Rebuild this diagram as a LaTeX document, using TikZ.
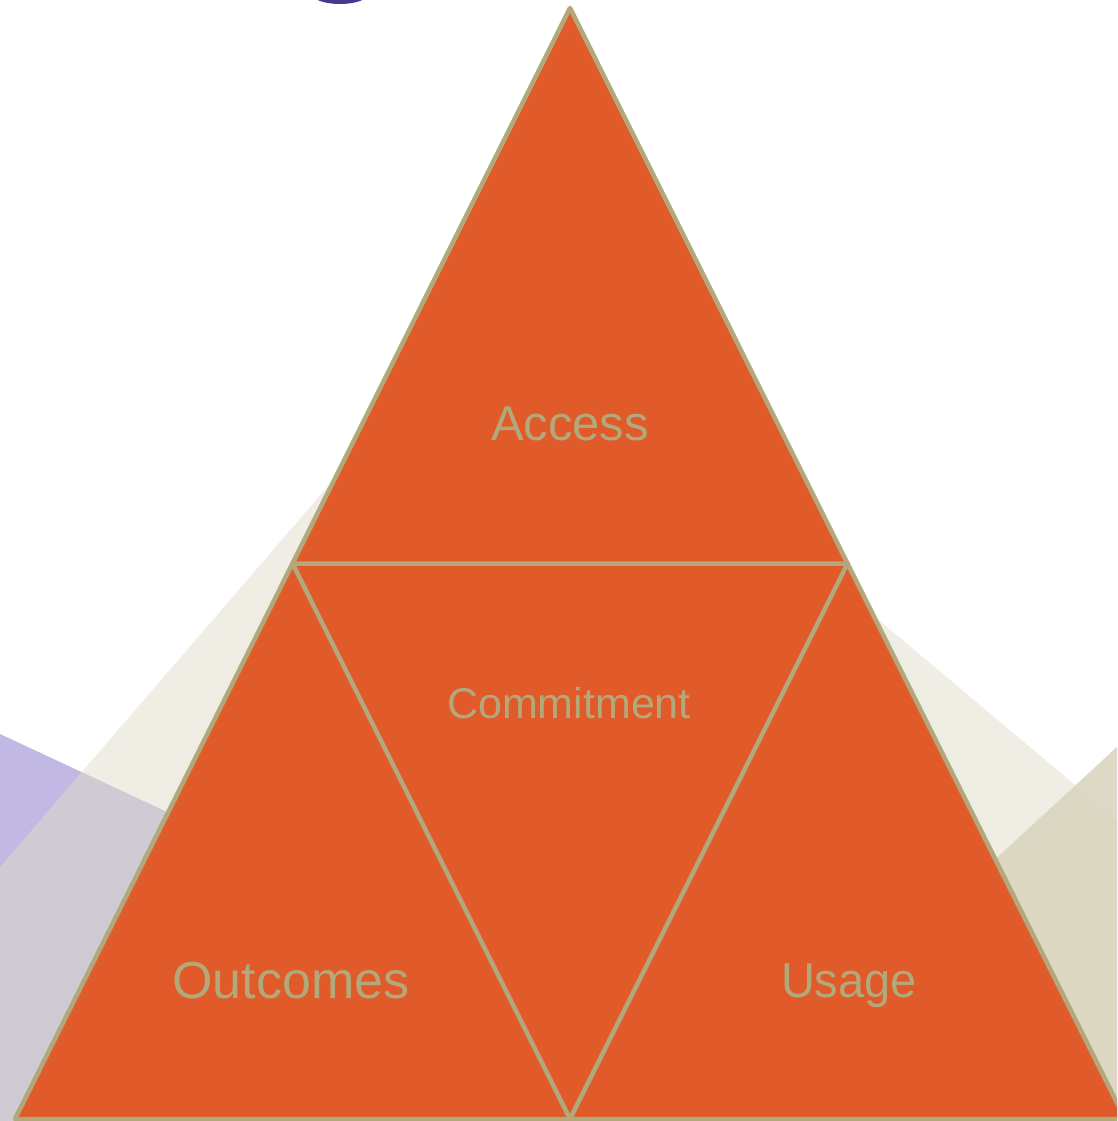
\documentclass[tikz,border=0pt]{standalone}
\usepackage{fontspec}
\setmainfont{Liberation Sans}
\usetikzlibrary{calc}
\definecolor{orangeF}{HTML}{E05A2A}
\definecolor{khaki}{HTML}{B3A87C}
\definecolor{textK}{HTML}{B2A87A}
\definecolor{purpleL}{HTML}{C1B9E3}
\definecolor{beigeL}{HTML}{DFDBC9}
\definecolor{beigeD}{HTML}{DAD5C0}
\definecolor{blobC}{HTML}{4A3890}
\tikzset{
  edgeline/.style={draw=khaki, line width=4.5pt, line join=round},
  lbl/.style={text=textK, anchor=base, inner sep=0pt},
}
\begin{document}
\begin{tikzpicture}[x=1pt,y=-1pt]
\useasboundingbox (0,0) rectangle (1117,1121);
\clip (0,0) rectangle (1117,1121);
% background shapes
\fill[purpleL] (0,734) -- (400,920.7) -- (400,1121) -- (0,1121) -- cycle;
\fill[beigeL, opacity=0.5] (345.5,466) -- (0,867) -- (0,1121) -- (500,1121) -- cycle;
\fill[beigeL, opacity=0.5] (843,590) -- (1300,974) -- (1300,1121) -- (1000,1121) -- cycle;
\fill[beigeD, opacity=0.9] (950,901) -- (1200,670.4) -- (1200,1121) -- (1000,1121) -- cycle;
% purple blob at top
\fill[blobC] (340,-6) ellipse [x radius=28, y radius=10];
% main triangle
\coordinate (apex) at (570,8);
\coordinate (bl) at (15,1119);
\coordinate (br) at (1125,1119);
\coordinate (ml) at ($(apex)!0.5!(bl)$);
\coordinate (mr) at ($(apex)!0.5!(br)$);
\coordinate (mb) at ($(bl)!0.5!(br)$);
\fill[orangeF] (apex) -- (bl) -- (br) -- cycle;
\draw[edgeline] (apex) -- (bl) -- (br) -- cycle;
\draw[edgeline] (ml) -- (mr) -- (mb) -- cycle;
% labels
\node[lbl, font=\fontsize{49}{56}\selectfont] (access) at (570,440) {Access};
\node[lbl, font=\fontsize{43}{50}\selectfont] (commit) at (569,718) {Commitment};
\node[lbl, font=\fontsize{52}{58}\selectfont] (outc) at (291,998) {Outcomes};
\node[lbl, font=\fontsize{49}{56}\selectfont, xscale=0.96] (usage) at (849,997) {Usage};
\end{tikzpicture}
\end{document}
